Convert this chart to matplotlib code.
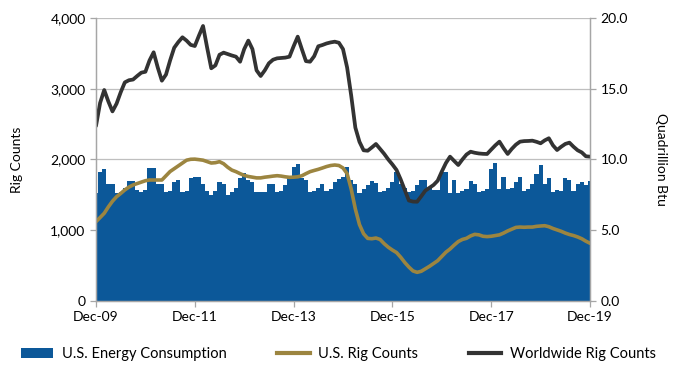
import numpy as np
import matplotlib
matplotlib.use('Agg')
import matplotlib.pyplot as plt
from matplotlib.patches import Patch
from matplotlib.lines import Line2D

plt.rcParams['font.family'] = ['Lato', 'DejaVu Sans']

# monthly data, Dec-09 .. Dec-19 (121 months)
energy_btu = [7.6, 9.1, 9.3, 8.3, 8.25, 7.6, 7.7, 8.0, 8.5, 8.5, 7.85, 7.7,
              7.85, 9.4, 9.4, 8.3, 8.3, 7.7, 7.8, 8.4, 8.55, 7.72, 7.8, 8.67,
              8.78, 8.78, 8.3, 7.8, 7.5, 7.8, 8.4, 8.3, 7.5, 7.7, 7.95, 8.67,
              9.07, 8.55, 8.4, 7.7, 7.7, 7.7, 8.3, 8.25, 7.7, 7.8, 8.2, 8.78,
              9.49, 9.68, 8.67, 8.55, 7.7, 7.8, 8.0, 8.3, 7.8, 7.9, 8.4, 8.6,
              8.78, 9.49, 8.55, 8.3, 7.65, 7.9, 8.2, 8.5, 8.35, 7.7, 7.75, 8.0,
              8.4, 9.14, 8.3, 7.95, 7.7, 7.8, 8.2, 8.55, 8.55, 7.95, 7.85, 7.85,
              9.14, 9.14, 7.6, 8.55, 7.6, 7.8, 7.9, 8.5, 8.3, 7.7, 7.8, 7.9,
              9.3, 9.73, 7.9, 8.78, 7.9, 8.0, 8.4, 8.78, 7.8, 7.9, 8.3, 9.0,
              9.6, 8.3, 8.67, 7.7, 7.85, 7.8, 8.67, 8.55, 7.8, 8.3, 8.4, 8.2,
              8.45]

us_rigs = [1121, 1180, 1240, 1330, 1410, 1474, 1520, 1570, 1610, 1640, 1660, 1680,
           1700, 1710, 1710, 1710, 1710, 1770, 1830, 1870, 1910, 1950, 1990, 2003,
           2005, 1998, 1990, 1970, 1950, 1955, 1969, 1940, 1890, 1850, 1828, 1800,
           1775, 1760, 1750, 1740, 1740, 1750, 1757, 1765, 1771, 1765, 1755, 1748,
           1750, 1755, 1770, 1800, 1828, 1845, 1861, 1880, 1900, 1915, 1922, 1915,
           1880, 1800, 1580, 1300, 1080, 950, 885, 880, 890, 870, 810, 760,
           720, 685, 620, 545, 480, 425, 405, 420, 455, 490, 530, 570,
           630, 690, 735, 790, 840, 870, 886, 920, 942, 935, 915, 910,
           915, 925, 935, 960, 990, 1015, 1040, 1045, 1042, 1045, 1045, 1055,
           1060, 1064, 1050, 1025, 1005, 985, 960, 940, 925, 905, 880, 845,
           816]

world_rigs = [2474, 2800, 2982, 2820, 2680, 2790, 2950, 3090, 3120, 3130, 3180, 3227,
              3240, 3400, 3515, 3300, 3114, 3200, 3400, 3580, 3660, 3727, 3680, 3620,
              3604, 3750, 3887, 3580, 3289, 3330, 3480, 3510, 3490, 3470, 3453, 3382,
              3560, 3680, 3560, 3260, 3180, 3260, 3360, 3410, 3430, 3435, 3440, 3453,
              3600, 3736, 3560, 3390, 3382, 3460, 3600, 3618, 3640, 3655, 3665, 3650,
              3560, 3300, 2900, 2450, 2250, 2130, 2124, 2170, 2219, 2150, 2080, 2000,
              1930, 1852, 1720, 1569, 1420, 1405, 1403, 1480, 1560, 1600, 1640, 1700,
              1830, 1950, 2040, 1980, 1922, 2000, 2070, 2110, 2095, 2085, 2080, 2078,
              2140, 2200, 2252, 2160, 2078, 2150, 2210, 2252, 2260, 2262, 2266, 2250,
              2229, 2270, 2300, 2200, 2134, 2180, 2220, 2238, 2180, 2130, 2100, 2045,
              2040]

tick_labels = ['Dec-09', 'Dec-11', 'Dec-13', 'Dec-15', 'Dec-17', 'Dec-19']

blue = '#0C5899'
gold = '#9C8540'
dark = '#333333'
grey = '#A6A6A6'

months = np.arange(len(us_rigs))

fig = plt.figure(figsize=(6.77, 3.77), dpi=100)
ax = fig.add_axes([0.1418, 0.2016, 0.7297, 0.7507])
ax2 = ax.twinx()

# bars on the right axis, lines on the left axis drawn above
ax2.bar(months, energy_btu, width=1.0, color=blue, linewidth=0)
ax2.set_axisbelow(True)
ax2.yaxis.grid(True, color='#BFBFBF', linewidth=0.9)
ax.set_zorder(ax2.get_zorder() + 1)
ax.patch.set_visible(False)

ax.plot(months, us_rigs, color=gold, linewidth=2.6, solid_capstyle='round')
ax.plot(months, world_rigs, color=dark, linewidth=2.7, solid_capstyle='round')

ax.set_xlim(0, 120)
ax.set_ylim(0, 4000)
ax2.set_ylim(0, 20)
ax.set_yticks([0, 1000, 2000, 3000, 4000])
ax.set_yticklabels(['0', '1,000', '2,000', '3,000', '4,000'])
ax2.set_yticks([0, 5, 10, 15, 20])
ax2.set_yticklabels(['0.0', '5.0', '10.0', '15.0', '20.0'])
ax.set_xticks(np.arange(0, 121, 24))
ax.set_xticklabels(tick_labels)

for a in (ax, ax2):
    a.spines['top'].set_visible(False)
    for s in ('left', 'right', 'bottom'):
        a.spines[s].set_color(grey)
        a.spines[s].set_linewidth(0.9)
    a.tick_params(colors=grey, labelcolor='black', labelsize=10, length=4, width=0.9)

ax.set_ylabel('Rig Counts', fontsize=10, labelpad=20)
ax2.set_ylabel('Quadrillion Btu', fontsize=10, rotation=270, labelpad=28)

handles = [Patch(facecolor=blue, edgecolor='none'),
           Line2D([], [], color=gold, linewidth=3),
           Line2D([], [], color=dark, linewidth=3)]
labels = ['U.S. Energy Consumption', 'U.S. Rig Counts', 'Worldwide Rig Counts']
fig.legend(handles, labels, loc='center', bbox_to_anchor=(0.5, 0.06), ncol=3,
           frameon=False, fontsize=10.5, handlelength=2.2, columnspacing=3.5,
           handletextpad=0.6)

fig.savefig('out.png', dpi=100)
